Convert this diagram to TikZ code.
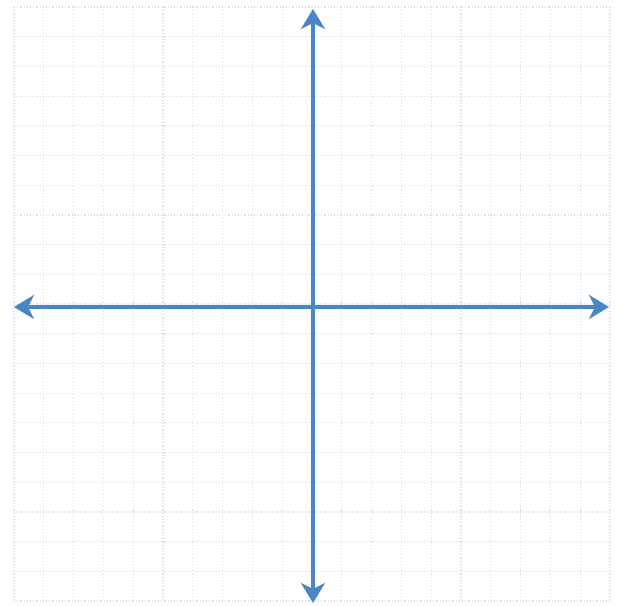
\documentclass[tikz,border=0pt]{standalone}
\usetikzlibrary{arrows.meta}

\definecolor{axisblue}{HTML}{4A86C5}
\definecolor{gridblue}{HTML}{CFE1F3}

\begin{document}
\begin{tikzpicture}[
x=0.5pt, y=-0.5pt,
gridline/.style={gridblue, line width=0.6pt, densely dotted},
axis/.style={axisblue, line width=2pt, {Stealth[length=10pt, width=12pt, inset=3pt]}-{Stealth[length=10pt, width=12pt, inset=3pt]}}
]
\useasboundingbox (0,0) rectangle (623,606);

% grid
\foreach \i in {0,...,20} {
  \draw[gridline] (14+29.8*\i,7) -- (14+29.8*\i,601);
  \draw[gridline] (14,7+29.7*\i) -- (610,7+29.7*\i);
}

\coordinate (west) at (14,307);
\coordinate (east) at (609,307);
\coordinate (north) at (313,9);
\coordinate (south) at (313,603);

\draw[axis] (west) -- (east);
\draw[axis] (south) -- (north);
\end{tikzpicture}
\end{document}
